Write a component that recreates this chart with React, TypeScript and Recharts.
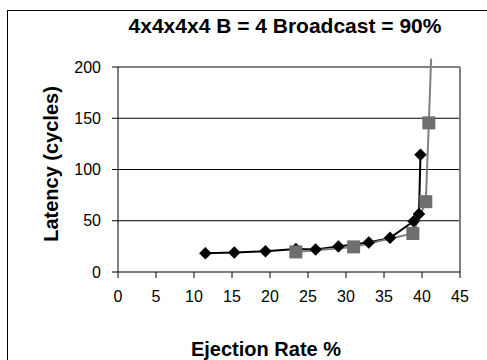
import React from 'react';
import { LineChart, Line, XAxis, YAxis, CartesianGrid, ReferenceLine } from 'recharts';

const titleText = '4x4x4x4 B = 4 Broadcast = 90%';
const xLabel = 'Ejection Rate %';
const yLabel = 'Latency (cycles)';

const xTicks = [0, 5, 10, 15, 20, 25, 30, 35, 40, 45];
const yTicks = [0, 50, 100, 150, 200];

const diamondX = [11.5, 15.3, 19.4, 23.4, 26.0, 29.0, 33.0, 35.8, 38.9, 39.6, 39.8];
const diamondY = [18.3, 19.0, 20.3, 22.5, 22.0, 25.0, 28.8, 33.3, 49.4, 56.6, 114.4];

const squareX = [23.4, 31.0, 38.8, 40.5, 40.9];
const squareY = [19.6, 24.5, 37.6, 68.6, 145.5];
// continuation beyond the plot top
const overshootX = 41.2;
const overshootY = 208;

const diamondData = diamondX.map((x, i) => ({ x, y: diamondY[i] }));
const squareData = squareX.map((x, i) => ({ x, y: squareY[i] }));

const FONT = '"Liberation Sans", Arial, sans-serif';

const Diamond = (props: any) => {
  const { cx, cy } = props;
  if (cx == null || cy == null) return null;
  const r = 6;
  return (
    <path
      d={`M${cx},${cy - r} L${cx + r},${cy} L${cx},${cy + r} L${cx - r},${cy} Z`}
      fill="#000"
      stroke="#000"
      strokeWidth={0.5}
    />
  );
};

const Square = (props: any) => {
  const { cx, cy } = props;
  if (cx == null || cy == null) return null;
  const h = 6.5;
  return <rect x={cx - h} y={cy - h} width={2 * h} height={2 * h} fill="#6e6e6e" />;
};

export default function App() {
  return (
    <div style={{ position: 'absolute', left: 0, top: 0, width: 487, height: 360, overflow: 'hidden', background: '#fff' }}>
      <div
        style={{
          position: 'absolute',
          left: 7,
          top: 10,
          width: 600,
          height: 500,
          borderLeft: '1px solid #000',
          borderTop: '1px solid #000',
        }}
      />
      <div style={{ position: 'absolute', left: 0, top: 0 }}>
        <LineChart width={487} height={360} margin={{ top: 67, right: 27, bottom: 58, left: 58 }}>
          <CartesianGrid vertical={false} stroke="#000" strokeWidth={1} horizontalValues={[50, 100, 150]} />
          <XAxis
            type="number"
            dataKey="x"
            domain={[0, 45]}
            ticks={xTicks}
            allowDataOverflow
            height={30}
            tickSize={6}
            tickMargin={13}
            axisLine={{ stroke: '#000' }}
            tickLine={{ stroke: '#000' }}
            tick={{ fontSize: 16, fill: '#000', fontFamily: FONT }}
          />
          <YAxis
            type="number"
            dataKey="y"
            domain={[0, 200]}
            ticks={yTicks}
            allowDataOverflow
            width={60}
            tickSize={6}
            tickMargin={11}
            axisLine={{ stroke: '#000' }}
            tickLine={{ stroke: '#000' }}
            tick={{ fontSize: 16, fill: '#000', fontFamily: FONT }}
          />
          <ReferenceLine y={200} stroke="#808080" strokeWidth={2} />
          <ReferenceLine x={45} stroke="#808080" strokeWidth={2} />
          <Line
            data={diamondData}
            dataKey="y"
            stroke="#000"
            strokeWidth={2}
            dot={<Diamond />}
            activeDot={false}
            isAnimationActive={false}
          />
          <ReferenceLine
            segment={[
              { x: squareX[squareX.length - 1], y: squareY[squareY.length - 1] },
              { x: overshootX, y: overshootY },
            ]}
            stroke="#808080"
            strokeWidth={2}
            ifOverflow="visible"
          />
          <Line
            data={squareData}
            dataKey="y"
            stroke="#808080"
            strokeWidth={2}
            dot={<Square />}
            activeDot={false}
            isAnimationActive={false}
          />
        </LineChart>
      </div>
      <div
        style={{
          position: 'absolute',
          left: 85,
          top: 15,
          width: 400,
          textAlign: 'center',
          fontFamily: FONT,
          fontWeight: 'bold',
          fontSize: 21,
          lineHeight: '21px',
          color: '#000',
          whiteSpace: 'nowrap',
        }}
      >
        {titleText}
      </div>
      <div
        style={{
          position: 'absolute',
          left: 66,
          top: 339,
          width: 400,
          textAlign: 'center',
          fontFamily: FONT,
          fontWeight: 'bold',
          fontSize: 20,
          lineHeight: '20px',
          color: '#000',
          whiteSpace: 'nowrap',
        }}
      >
        {xLabel}
      </div>
      <div
        style={{
          position: 'absolute',
          left: 51 - 150,
          top: 164 - 10,
          width: 300,
          height: 20,
          textAlign: 'center',
          fontFamily: FONT,
          fontWeight: 'bold',
          fontSize: 20,
          lineHeight: '20px',
          color: '#000',
          whiteSpace: 'nowrap',
          transform: 'rotate(-90deg)',
          transformOrigin: '50% 50%',
        }}
      >
        {yLabel}
      </div>
    </div>
  );
}
